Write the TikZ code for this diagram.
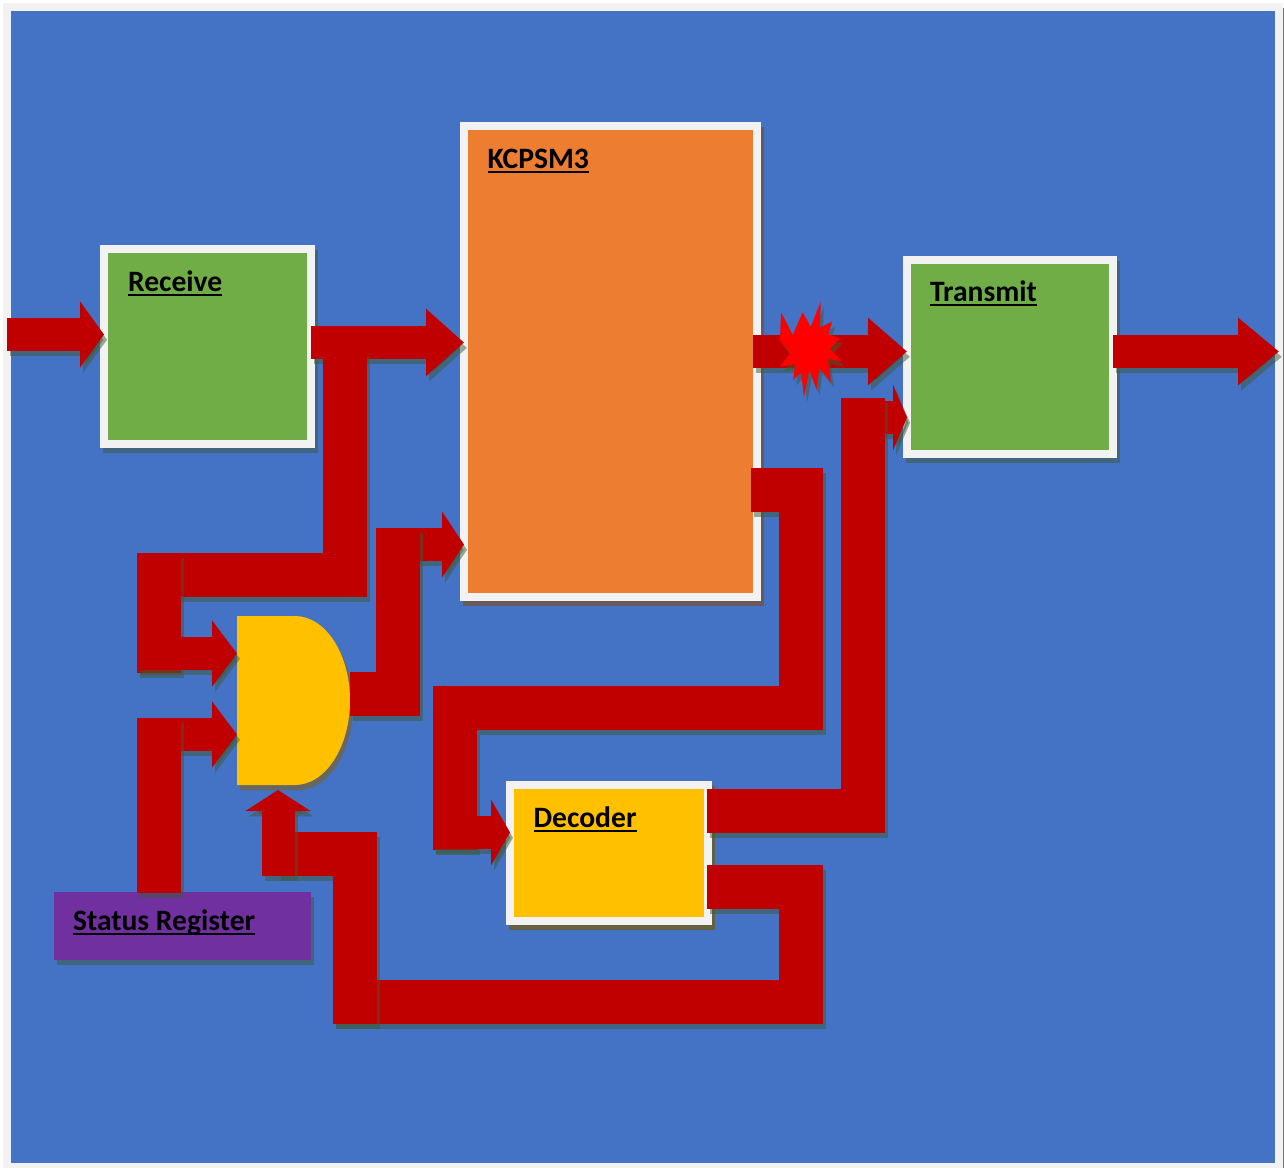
\documentclass[tikz,border=0pt]{standalone}
\usepackage{fontspec}
\setmainfont{Carlito}
\usetikzlibrary{arrows.meta}
\definecolor{panelblue}{HTML}{4472C4}
\definecolor{framegrey}{HTML}{F2F2F2}
\definecolor{wirered}{HTML}{C00000}
\definecolor{boxgreen}{HTML}{70AD47}
\definecolor{boxorange}{HTML}{ED7D31}
\definecolor{boxyellow}{HTML}{FFC000}
\definecolor{boxpurple}{HTML}{7030A0}
\definecolor{shadegreen}{HTML}{3E5A38}
\definecolor{shadeorange}{HTML}{924C3C}
\definecolor{shadeyellow}{HTML}{885E04}
\newcommand\ulabel[1]{\setbox0\hbox{#1}\rlap{\rule[-4.6pt]{\wd0}{2pt}}\box0}
\newcommand\conn[2]{%
  \begin{scope}[transform canvas={xshift=3pt,yshift=-5.3pt}]\draw[#1,draw=shadegreen,opacity=.5] #2;\end{scope}
  \draw[#1] #2;}
\tikzset{
  wire/.style={draw=wirered,line width=44pt,line join=miter},
  arrowwire/.style={draw=wirered,line width=33pt,-{Triangle[length=#1,width=65pt]}},
  upwire/.style={draw=wirered,line width=33pt,-{Triangle[length=#1,width=64pt]}},
  boxshade/.style={preaction={draw=#1,fill=none,line width=8pt,opacity=.5,transform canvas={xshift=3pt,yshift=-5.3pt}}},
  block/.style={draw=framegrey,line width=8pt,inner sep=0pt,outer sep=0pt,boxshade=shadegreen},
  caption/.style={anchor=base west,inner sep=0pt,outer sep=0pt,font=\fontsize{29.6pt}{31pt}\selectfont\bfseries,text=black},
}
\begin{document}
\begin{tikzpicture}[x=1pt,y=-1pt]
\useasboundingbox (0,0) rectangle (1284,1167);
% panel
\node[draw=framegrey,fill=panelblue,line width=8pt,inner sep=0pt,outer sep=0pt,minimum width=1272pt,minimum height=1160pt,
  preaction={draw=black!55,line width=8pt,transform canvas={xshift=3pt,yshift=-5.3pt}}] (panel) at (643,587) {};
% blocks
\node[block,boxshade=shadeorange,fill=boxorange,minimum width=293pt,minimum height=470.5pt] (kcpsm) at (610.5,361.25) {};
\node[block,fill=boxgreen,minimum width=207pt,minimum height=195pt] (recv) at (207.5,346.5) {};
\node[block,fill=boxgreen,minimum width=206pt,minimum height=194.5pt] (trans) at (1010,356.75) {};
\node[block,boxshade=shadeyellow,fill=boxyellow,minimum width=198pt,minimum height=136pt] (dec) at (609,853) {};
\path[fill=shadegreen,opacity=.5,transform canvas={xshift=3pt,yshift=-5.3pt}] (54,892) rectangle (311,960);
\node[fill=boxpurple,inner sep=0pt,outer sep=0pt,minimum width=257pt,minimum height=68pt] (status) at (182.5,926) {};
% AND gate
\node[inner sep=0pt,outer sep=0pt,minimum width=113pt,minimum height=169pt] (andg) at (293.5,700.5) {};
\path[fill=shadeyellow,opacity=.5,transform canvas={xshift=3pt,yshift=-5.3pt}]
  (237,616) -- (295,616) .. controls (325.4,616) and (350,653.8) .. (350,700.5) .. controls (350,747.2) and (325.4,785) .. (295,785) -- (237,785) -- cycle;
\path[fill=boxyellow]
  (237,616) -- (295,616) .. controls (325.4,616) and (350,653.8) .. (350,700.5) .. controls (350,747.2) and (325.4,785) .. (295,785) -- (237,785) -- cycle;
% wire end points
\coordinate (inA) at (7,334.5);
\coordinate (rk) at (311,342.5);
\coordinate (rkdrop) at (345,351);
\coordinate (rkcorner) at (345,574.5);
\coordinate (topleft) at (159,574.5);
\coordinate (bTop) at (159,552.5);
\coordinate (bBot) at (159,673);
\coordinate (andA) at (137,653.5);
\coordinate (andB) at (137,734.5);
\coordinate (stTop) at (159,718);
\coordinate (stBot) at (159,893);
\coordinate (andOut) at (350,694);
\coordinate (aoCorner) at (398,694);
\coordinate (aoTop) at (398,528);
\coordinate (kIn2) at (376,544.5);
\coordinate (kOut) at (753,351.5);
\coordinate (tOut) at (1113,351.5);
\coordinate (tEnd) at (1279,351.5);
\coordinate (kd1) at (751,490);
\coordinate (kd2) at (801,490);
\coordinate (kd3) at (801,708);
\coordinate (kd4) at (455,708);
\coordinate (kd5) at (455,849.5);
\coordinate (dIn) at (433,832.5);
\coordinate (dt1) at (707,811);
\coordinate (dt2) at (863,811);
\coordinate (dt3) at (863,398);
\coordinate (tIn2) at (860,417.5);
\coordinate (da1) at (707,887);
\coordinate (da2) at (801,887);
\coordinate (da3) at (801,1002);
\coordinate (da4) at (333,1002);
\coordinate (da5) at (355,1024);
\coordinate (da6) at (355,854);
\coordinate (da7) at (278,854);
\coordinate (aIn) at (278,876);
% connectors
\conn{arrowwire=24pt}{(inA) -- (recv.west |- inA)}
\conn{arrowwire=38pt}{(rk) -- (kcpsm.west |- rk)}
\conn{wire}{(rkdrop) -- (rkcorner) -- (topleft)}
\conn{wire}{(bTop) -- (bBot)}
\conn{arrowwire=25pt}{(andA) -- (andg.west |- andA)}
\conn{arrowwire=25pt}{(andB) -- (andg.west |- andB)}
\conn{wire}{(stBot) -- (stTop)}
\conn{arrowwire=22pt}{(kIn2) -- (kcpsm.west |- kIn2)}
\conn{wire}{(andOut) -- (aoCorner) -- (aoTop)}
\conn{arrowwire=39pt}{(kOut) -- (trans.west |- kOut)}
\conn{arrowwire=41pt}{(tOut) -- (tEnd)}
\conn{wire}{(kd1) -- (kd2) -- (kd3) -- (kd4) -- (kd5)}
\conn{arrowwire=19pt}{(dIn) -- (dec.west |- dIn)}
\conn{arrowwire=14pt}{(tIn2) -- (trans.west |- tIn2)}
\conn{wire}{(dt1) -- (dt2) -- (dt3)}
\conn{wire}{(da1) -- (da2) -- (da3) -- (da4)}
\conn{wire}{(da5) -- (da6) -- (da7)}
\conn{upwire=21pt}{(aIn) -- (aIn |- 0,790)}
% burst
\path[fill=shadegreen,opacity=.5,transform canvas={xshift=3pt,yshift=-5.3pt}]
 (781,312.3) -- (792.7,335) -- (802.7,312.3) -- (810.7,327) -- (820.7,301.7) -- (820,327.7) -- (832,321.7) -- (828.3,334.3) -- (839.3,338.3) -- (830,349) -- (841.7,361) -- (827.7,359) -- (831,382.3) -- (819.3,367.7) -- (816.7,390) -- (809.3,370) -- (804,396.7) -- (801,372.3) -- (793.3,380) -- (795,364) -- (780,366.7) -- (790,353.3) -- (780,340) -- cycle;
\path[fill=red]
 (781,312.3) -- (792.7,335) -- (802.7,312.3) -- (810.7,327) -- (820.7,301.7) -- (820,327.7) -- (832,321.7) -- (828.3,334.3) -- (839.3,338.3) -- (830,349) -- (841.7,361) -- (827.7,359) -- (831,382.3) -- (819.3,367.7) -- (816.7,390) -- (809.3,370) -- (804,396.7) -- (801,372.3) -- (793.3,380) -- (795,364) -- (780,366.7) -- (790,353.3) -- (780,340) -- cycle;
% captions
\node[caption] (kcpsmT) at (487.5,168) {\ulabel{KCPSM3}};
\node[caption] (recvT) at (128,291) {\ulabel{Receive}};
\node[caption] (transT) at (930,301) {\ulabel{Transmit}};
\node[caption] (decT) at (533.5,827) {\ulabel{Decoder}};
\node[caption] (statusT) at (73,930) {\ulabel{Status Register}};
\end{tikzpicture}
\end{document}
